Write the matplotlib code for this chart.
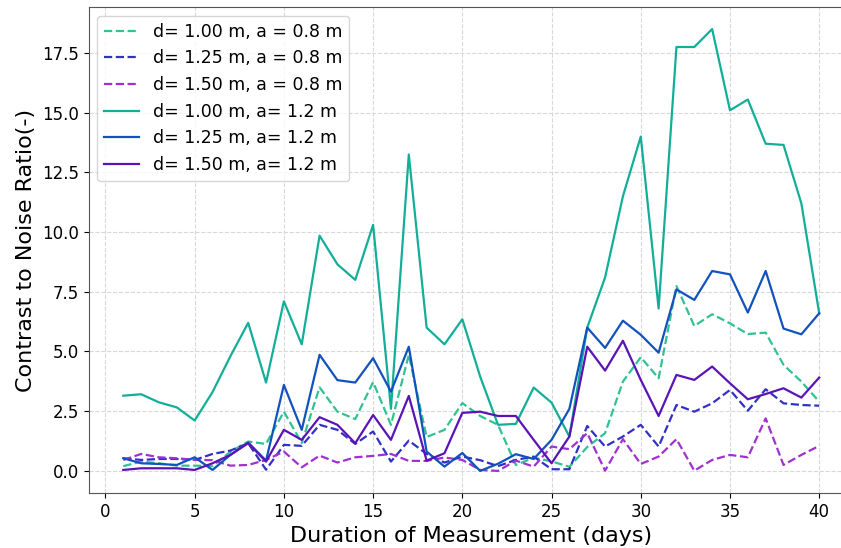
import numpy as np
import matplotlib
matplotlib.use("Agg")
import matplotlib.pyplot as plt


days = np.arange(1, 41)

# a = 0.8 m
cnr_d100_a08 = [0.2, 0.39, 0.32, 0.22, 0.22, 0.2, 0.8, 1.23, 1.13, 2.48,
                1.17, 3.5, 2.48, 2.17, 3.72, 1.93, 4.86, 1.42, 1.72, 2.84,
                2.3, 1.93, 0.25, 0.55, 0.4, 0.17, 1.0, 1.58, 3.74, 4.76,
                3.88, 7.74, 6.07, 6.56, 6.18, 5.73, 5.79, 4.44, 3.74, 2.9]
cnr_d125_a08 = [0.53, 0.46, 0.5, 0.5, 0.46, 0.71, 0.85, 1.16, 0.05, 1.09,
                1.05, 1.93, 1.72, 1.13, 1.65, 0.39, 1.27, 0.71, 0.35, 0.6,
                0.45, 0.2, 0.46, 0.6, 0.07, 0.07, 1.88, 1.02, 1.44, 1.93,
                1.02, 2.76, 2.48, 2.83, 3.39, 2.52, 3.42, 2.83, 2.76, 2.73]
cnr_d150_a08 = [0.46, 0.71, 0.57, 0.53, 0.46, 0.45, 0.22, 0.25, 0.46, 0.81,
                0.15, 0.64, 0.35, 0.57, 0.63, 0.71, 0.42, 0.42, 0.56, 0.46,
                0.04, 0.0, 0.43, 0.18, 1.02, 0.91, 1.58, 0.01, 1.33, 0.29,
                0.6, 1.33, 0.01, 0.46, 0.67, 0.57, 2.2, 0.25, 0.67, 1.05]

# a = 1.2 m
cnr_d100_a12 = [3.15, 3.21, 2.87, 2.66, 2.11, 3.3, 4.8, 6.2, 3.7, 7.1,
                5.3, 9.85, 8.65, 8.0, 10.3, 2.6, 13.25, 6.0, 5.3, 6.35,
                3.95, 1.93, 1.97, 3.49, 2.86, 1.44, 6.0, 8.1, 11.5, 14.0,
                6.8, 17.75, 17.75, 18.5, 15.1, 15.55, 13.7, 13.65, 11.2, 6.6]
cnr_d125_a12 = [0.53, 0.32, 0.29, 0.25, 0.57, 0.04, 0.67, 1.19, 0.43, 3.6,
                1.72, 4.86, 3.8, 3.7, 4.72, 3.32, 5.2, 0.81, 0.18, 0.75,
                0.0, 0.3, 0.7, 0.5, 1.3, 2.6, 6.0, 5.15, 6.29, 5.7,
                4.95, 7.6, 7.16, 8.37, 8.23, 6.63, 8.37, 5.96, 5.72, 6.6]
cnr_d150_a12 = [0.04, 0.11, 0.11, 0.11, 0.04, 0.32, 0.67, 1.16, 0.39, 1.72,
                1.3, 2.25, 1.93, 1.16, 2.34, 1.3, 3.14, 0.43, 0.74, 2.43,
                2.48, 2.3, 2.3, 1.3, 0.32, 1.44, 5.2, 4.2, 5.45, 3.81,
                2.3, 4.02, 3.81, 4.37, 3.67, 3.0, 3.22, 3.46, 3.07, 3.91]

labels = [
    "d= 1.00 m, a = 0.8 m",
    "d= 1.25 m, a = 0.8 m",
    "d= 1.50 m, a = 0.8 m",
    "d= 1.00 m, a= 1.2 m",
    "d= 1.25 m, a= 1.2 m",
    "d= 1.50 m, a= 1.2 m",
]


def main():
    fig = plt.figure(figsize=(8.41, 5.48), dpi=100)
    # axes run slightly past the right edge of the canvas
    ax = fig.add_axes([88.5 / 841, 55 / 548, 765.5 / 841, 486 / 548])

    ax.plot(days, cnr_d100_a08, "--", color="#2fc293", lw=1.6, label=labels[0])
    ax.plot(days, cnr_d125_a08, "--", color="#3131c6", lw=1.6, label=labels[1])
    ax.plot(days, cnr_d150_a08, "--", color="#a030d2", lw=1.6, label=labels[2])
    ax.plot(days, cnr_d100_a12, "-", color="#12ae98", lw=1.6, label=labels[3])
    ax.plot(days, cnr_d125_a12, "-", color="#1152bd", lw=1.6, label=labels[4])
    ax.plot(days, cnr_d150_a12, "-", color="#5a14b6", lw=1.6, label=labels[5])

    ax.set_xlabel("Duration of Measurement (days)", fontsize=16)
    ax.set_ylabel("Contrast to Noise Ratio(-)", fontsize=16)
    ax.tick_params(labelsize=12)
    ax.set_xticks(np.arange(0, 41, 5))
    ax.grid(True, linestyle="--", color="#d8d8d8", linewidth=0.8)
    ax.legend(loc="upper left", fontsize=12.5)

    for s in ax.spines.values():
        s.set_color("#555555")

    fig.savefig("out.png", dpi=100)
    plt.close(fig)


if __name__ == "__main__":
    main()
